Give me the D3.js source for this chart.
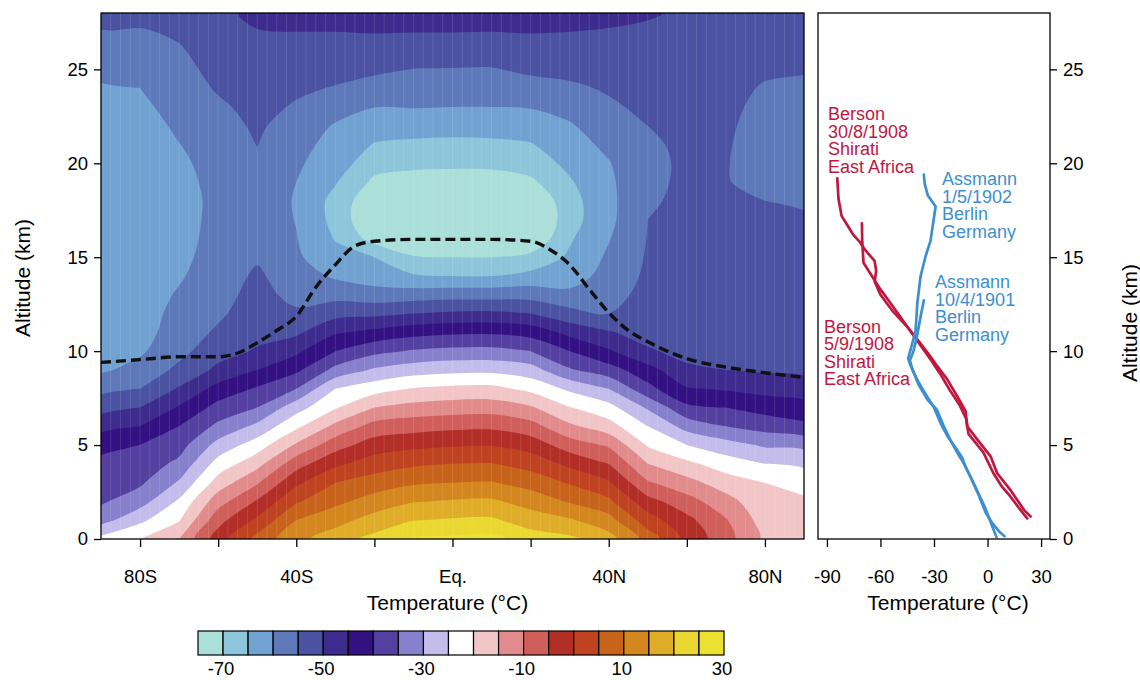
<!DOCTYPE html>
<html>
<head>
<meta charset="utf-8">
<script src="https://cdn.jsdelivr.net/npm/d3@7"></script>
<style>
  body { margin: 0; background: #fff; }
  svg text { font-family: "Liberation Sans", Arial, Helvetica, sans-serif; }
</style>
</head>
<body>
<div id="chart"></div>
<script>
// grid of the zonal mean cross section: latitude columns, altitude rows (km)
var lats = [-90, -80, -70, -60, -50, -40, -30, -20, -10, 0, 10, 20, 30, 40, 50, 60, 70, 80, 90];
var alts = [0, 1, 2, 3, 4, 5, 6, 7, 8, 9, 10, 11, 12, 13, 14, 15, 16, 17, 18, 19, 20, 21, 22, 23, 24, 25, 26, 27, 28];

// temperature (°C) for each latitude, from the ground up to 28 km
var tempByLat = [
  [-23.5, -32, -35.7, -37.3, -38.8, -41.4, -46.8, -51.8, -56.5, -60.8, -62.1, -62.2, -62.4, -62.5, -62.8, -62.9, -63, -62.9, -62.8, -62.8, -62.7, -62.6, -62.5, -61.5, -60.5, -58.8, -57, -55.3, -53],
  [-20, -26.1, -32.1, -35.8, -37.9, -40, -45, -50, -55, -58.3, -60.7, -62, -62.2, -62.4, -62.6, -62.8, -63, -62.8, -62.7, -62.5, -62.3, -62.2, -62, -61, -60, -58.5, -57, -55.5, -53],
  [-15, -20.4, -24.2, -29.4, -33.8, -37, -40, -44.5, -49.5, -53.8, -56.5, -57.5, -58.5, -59.5, -60.5, -61.2, -61.5, -61.6, -61.5, -61.2, -60.8, -60.1, -59.2, -58.3, -57.4, -56.5, -55.5, -54.2, -53],
  [-2.5, -6.75, -12.1, -17.8, -23, -28.3, -33.9, -38.3, -43.3, -48.9, -51.9, -54.3, -55.8, -56.8, -57.5, -58, -58.5, -58.8, -59, -58.8, -58.4, -57.8, -57, -55.8, -54.5, -53.5, -52.6, -51.8, -51],
  [6.5, 1.1, -4.4, -10.6, -16.7, -22.5, -28.8, -35, -39.4, -45, -49.5, -51.5, -52.5, -53.3, -54.2, -55.6, -56.4, -56.9, -57.1, -56.9, -55.6, -54.9, -54.2, -53.5, -52.8, -52, -51.2, -50.2, -49],
  [13.5, 10, 4.4, -1.1, -7.1, -14.3, -21.1, -27.1, -35, -41, -46, -51, -54.2, -56.5, -57.8, -59.2, -59.8, -60.2, -60.4, -60, -59.3, -58.5, -57.3, -55.5, -54.2, -53, -51.8, -50, -48.5],
  [17.7, 13.2, 8.8, 5, -1.1, -7.1, -13.75, -20.5, -25, -33.6, -40, -45.6, -51.7, -56.7, -60.7, -63.5, -65.3, -66.5, -66.6, -64.6, -62.5, -61.5, -60.4, -58, -55.3, -53.4, -51.6, -50, -48],
  [21.4, 17, 12.1, 7.3, 2.5, -2.6, -8.2, -15, -22.1, -29.3, -36.4, -43.6, -51.2, -57.9, -62.5, -65, -72, -75, -74, -71, -68, -65.3, -62.6, -59.9, -56.8, -54.1, -52, -49.8, -47.5],
  [25.5, 19.8, 14.7, 9.3, 4.2, -1.3, -7, -13.3, -19.7, -27.3, -34.5, -41.7, -50, -57.5, -64.5, -69.5, -75.5, -77.5, -76, -72, -68.8, -66, -62.8, -59.8, -57.5, -55.1, -52.4, -49.9, -47.5],
  [26, 20.5, 15.5, 10, 5, -0.5, -6.2, -12.5, -18.8, -26.4, -33.6, -40.8, -49.2, -57, -65, -70, -76, -78, -76, -72, -69.1, -66.2, -63.1, -60, -57.6, -55.2, -52.5, -49.9, -47.5],
  [26.5, 20.8, 15.8, 10.3, 5.2, -0.3, -6, -12.3, -18.6, -26.3, -33.5, -40.7, -49, -57, -65, -70, -76, -78, -76, -72, -69, -66, -63, -60, -57.7, -55.3, -52.6, -50, -47.5],
  [22.5, 17.7, 13, 8, 3, -2.2, -8.1, -14.4, -21.3, -27.9, -35, -42, -50, -56.9, -63.6, -68.6, -74.5, -76.5, -75, -71, -67.6, -65.3, -62.6, -59.7, -56.8, -54.1, -52, -49.8, -47.5],
  [21, 15.6, 9.5, 4.5, -1.2, -7.5, -14, -19.8, -26, -34.4, -40, -46.5, -53.4, -58.5, -62.8, -64.2, -65.6, -67, -66.8, -65.5, -63.8, -62.2, -60.5, -58.3, -55.8, -53.7, -51.8, -50, -48],
  [17, 11.9, 6.1, 0.6, -5, -10.7, -18, -23.3, -30, -37.9, -44.4, -49.6, -55, -56.5, -57.8, -59.2, -60.3, -61.2, -61.3, -61, -60.3, -58.8, -57.3, -55.7, -54.5, -53.3, -52, -50.3, -48.8],
  [8, 2.2, -3.2, -9.4, -15, -20.5, -25, -30.7, -38.5, -43.1, -49.4, -52, -53, -53.7, -54.2, -54.5, -54.8, -55, -55.3, -55.5, -55.6, -55.4, -55, -54, -53, -52.3, -51.6, -50.8, -49.5],
  [-1.5, -3.6, -8, -13.3, -18.8, -25, -31.9, -38.9, -44.6, -49.1, -51.5, -52.5, -53, -53.4, -53.7, -54, -54.2, -54.4, -54.5, -54.6, -54.6, -54.5, -54.3, -54, -53.6, -53.2, -52.5, -51.7, -50.8],
  [-8, -9.6, -13.1, -17.5, -22.5, -28, -35, -40, -45.5, -50, -52, -53, -53.5, -54, -54.3, -54.5, -54.7, -54.8, -54.9, -54.9, -54.9, -54.8, -54.6, -54.3, -54, -53.5, -53, -52.3, -51.5],
  [-16, -17.3, -18.6, -20, -25, -30.7, -37, -42, -46.7, -50.6, -52.2, -53, -53.6, -54, -54.3, -54.6, -54.8, -54.9, -55, -55.6, -55.9, -56, -56, -55.8, -55.3, -54.5, -53.5, -52.5, -51.5],
  [-17, -18.2, -19.2, -21.7, -26, -31.3, -38.8, -43.3, -47.3, -51.2, -52.3, -53, -53.6, -54, -54.3, -54.5, -54.7, -54.9, -55.1, -55.8, -56.2, -56.4, -56.3, -56, -55.5, -54.8, -54, -53, -52]
];

// tropopause (dashed line)
var tropLat = [-90, -80, -70, -60, -55, -50, -45, -40, -35, -30, -25, -20, -10, 0, 10, 20, 25, 30, 35, 40, 45, 50, 60, 70, 80, 90];
var tropAlt = [9.4, 9.55, 9.7, 9.7, 9.9, 10.45, 11.1, 11.85, 13.4, 14.6, 15.6, 15.85, 15.95, 15.95, 15.95, 15.85, 15.4, 14.6, 13.3, 12.05, 11.1, 10.5, 9.6, 9.15, 8.85, 8.6];

// colour classes, 5 °C wide
var bandLimits = [-75, -70, -65, -60, -55, -50, -45, -40, -35, -30, -25, -20, -15, -10, -5, 0, 5, 10, 15, 20, 25, 30];
var bandColors = ['#abdfda', '#8dc5db', '#71a2d2', '#5d79b9', '#4a52a1', '#3d2c8d', '#331183', '#5440a0', '#8780cc',
  '#c4bdeb', '#ffffff', '#f2c6c7', '#e28b8c', '#d05e5a', '#b22e27', '#bf4320', '#c8631c', '#d4871f', '#e0ad28', '#ead72f', '#ece232'];
var cbarLabels = [-70, -50, -30, -10, 10, 30];

var latTicks = [-80, -60, -40, -20, 0, 20, 40, 60, 80];
var latNames = {'-80': '80S', '-40': '40S', '0': 'Eq.', '40': '40N', '80': '80N'};
var altTicks = [0, 5, 10, 15, 20, 25];
var tempTicks = [-90, -60, -30, 0, 30];

// balloon soundings: temperature (°C) / altitude (km)
var bersonA_T = [-84.2, -83.5, -81.8, -78.5, -75.3, -71.5, -68.7, -63.3, -62.4, -63.2, -60, -52.9, -45, -37.5, -31.9, -28.2, -22.6, -17, -12.3, -11.4, -5.8, 1.7, 5.4, 12.9, 20.4, 24.1];
var bersonA_alt = [19.2, 18.1, 17.2, 16.7, 16.2, 15.8, 15.4, 14.8, 14.3, 13.7, 13.0, 12.1, 11.3, 10.4, 9.7, 9.2, 8.5, 7.6, 6.8, 6.0, 5.3, 4.4, 3.5, 2.6, 1.55, 1.2];
var bersonB_T = [-70.4, -70.2, -69.5, -64.8, -60.1, -54.7, -49.1, -43.5, -36, -31.5, -26.6, -21, -15.5, -12, -10.7, -6.5, -2.3, 3.3, 8, 12.9, 18, 22.2];
var bersonB_alt = [16.8, 15.8, 14.7, 14.0, 13.3, 12.6, 11.85, 11.1, 10.1, 9.5, 8.8, 7.9, 7.1, 6.4, 5.6, 5.1, 4.6, 3.5, 2.8, 2.25, 1.6, 1.1];
var assmannA_T = [-35.7, -35.2, -33.5, -29.1, -30.5, -31.9, -34.7, -37.5, -39.3, -40.3, -42.5, -44.5, -43, -39, -34, -30, -26, -22, -17.5, -14, -12.7, -9, -5, -1.5, 1.3, 5];
var assmannA_alt = [19.4, 18.9, 18.3, 17.7, 16.8, 15.9, 15.05, 14.0, 12.6, 11.1, 10.3, 9.6, 9.2, 8.4, 7.6, 7.0, 6.1, 5.4, 4.8, 4.3, 3.9, 3.2, 2.4, 1.7, 1.0, 0.1];
var assmannB_T = [-35.7, -37.5, -39.5, -41.5, -43.5, -42, -38.5, -33.5, -28.5, -24.5, -21, -17, -12.5, -9, -4.8, -1, 3, 6.5, 9.5];
var assmannB_alt = [12.7, 11.85, 10.8, 10.0, 9.5, 9.0, 8.2, 7.4, 6.9, 6.0, 5.3, 4.6, 3.9, 3.2, 2.3, 1.4, 0.8, 0.4, 0.15];

var red = '#c1173f', blue = '#3d8fcf';
var soundings = [
  {T: bersonA_T, alt: bersonA_alt, color: red},
  {T: bersonB_T, alt: bersonB_alt, color: red},
  {T: assmannA_T, alt: assmannA_alt, color: blue},
  {T: assmannB_T, alt: assmannB_alt, color: blue}
];
var notes = [
  {lines: ['Berson', '30/8/1908', 'Shirati', 'East Africa'], T: -89.4, alt: 22.3, color: red},
  {lines: ['Berson', '5/9/1908', 'Shirati', 'East Africa'], T: -91.6, alt: 10.97, color: red},
  {lines: ['Assmann', '1/5/1902', 'Berlin', 'Germany'], T: -25.5, alt: 18.84, color: blue},
  {lines: ['Assmann', '10/4/1901', 'Berlin', 'Germany'], T: -29.4, alt: 13.36, color: blue}
];

var svg = d3.select('#chart').append('svg')
  .attr('width', 1140)
  .attr('height', 680);

var x = d3.scaleLinear().domain([-90, 90]).range([101, 804]);
var y = d3.scaleLinear().domain([0, 28]).range([539, 13]);
var x2 = d3.scaleLinear().domain([-95, 35]).range([818, 1050]);
var color = d3.scaleThreshold().domain(bandLimits.slice(1, -1)).range(bandColors);

var defs = svg.append('defs');
defs.append('clipPath').attr('id', 'clipL').append('rect')
  .attr('x', x.range()[0]).attr('y', y.range()[1])
  .attr('width', x.range()[1] - x.range()[0]).attr('height', y.range()[0] - y.range()[1]);
defs.append('clipPath').attr('id', 'clipR').append('rect')
  .attr('x', x2.range()[0]).attr('y', y.range()[1])
  .attr('width', x2.range()[1] - x2.range()[0]).attr('height', y.range()[0] - y.range()[1]);

// ---- left panel: filled contours ----
var nx = lats.length, ny = alts.length;
var grid = [];
for (var j = 0; j < ny; j++) {
  for (var i = 0; i < nx; i++) grid.push(tempByLat[i][j]);
}
var contours = d3.contours().size([nx, ny]).thresholds(bandLimits.slice(1, -1))(grid);

// contour coordinates are in grid cells, sample i sits at i + 0.5
var dLat = lats[1] - lats[0], dAlt = alts[1] - alts[0];
var ringLine = d3.line()
  .x(function(p) { return x(lats[0] + (p[0] - 0.5) * dLat); })
  .y(function(p) { return y(alts[0] + (p[1] - 0.5) * dAlt); })
  .curve(d3.curveCatmullRomClosed.alpha(0.5));

var field = svg.append('g').attr('clip-path', 'url(#clipL)');
field.append('rect')
  .attr('x', x.range()[0]).attr('y', y.range()[1])
  .attr('width', x.range()[1] - x.range()[0]).attr('height', y.range()[0] - y.range()[1])
  .attr('fill', bandColors[0]);
field.selectAll('path.band')
  .data(contours)
  .enter()
  .append('path')
  .attr('class', 'band')
  .attr('fill', function(d) { return color(d.value); })
  .attr('d', function(d) {
    return d.coordinates.map(function(poly) {
      return poly.map(function(ring) { return ringLine(ring.slice(0, -1)); }).join('');
    }).join('');
  });

// faint tile seams like the original rendering
field.selectAll('line.seam')
  .data(d3.range(-87.5, 90, 2.5))
  .enter()
  .append('line')
  .attr('x1', function(d) { return x(d); }).attr('x2', function(d) { return x(d); })
  .attr('y1', y.range()[1]).attr('y2', y.range()[0])
  .attr('stroke', '#fff').attr('stroke-opacity', 0.12).attr('stroke-width', 1);

// tropopause
var tropLine = d3.line()
  .x(function(d, i) { return x(tropLat[i]); })
  .y(function(d) { return y(d); })
  .curve(d3.curveMonotoneX);
field.append('path')
  .attr('d', tropLine(tropAlt))
  .attr('fill', 'none')
  .attr('stroke', '#111')
  .attr('stroke-width', 3.4)
  .attr('stroke-dasharray', '10,5');

svg.append('rect')
  .attr('x', x.range()[0]).attr('y', y.range()[1])
  .attr('width', x.range()[1] - x.range()[0]).attr('height', y.range()[0] - y.range()[1])
  .attr('fill', 'none').attr('stroke', '#000').attr('stroke-width', 1.3);

// axes (plain hyphen for negative numbers, as in the original)
var plain = function(d) { return String(d); };
function styleAxis(g) {
  g.select('.domain').remove();
  g.selectAll('.tick line').attr('stroke', '#000').attr('stroke-width', 1.3);
  g.selectAll('.tick text').attr('fill', '#000').style('font-size', '18.5px')
    .style('font-family', '"Liberation Sans", Arial, sans-serif');
}

svg.append('g')
  .attr('transform', 'translate(' + x.range()[0] + ',0)')
  .call(d3.axisLeft(y).tickValues(altTicks).tickFormat(plain).tickSize(7).tickPadding(6))
  .call(styleAxis);

svg.append('g')
  .attr('transform', 'translate(0,' + y.range()[0] + ')')
  .call(d3.axisBottom(x).tickValues(latTicks).tickSize(8)
    .tickFormat(function(d) { return latNames[d] || ''; }).tickPadding(23))
  .call(styleAxis);

svg.append('text')
  .attr('x', (x.range()[0] + x.range()[1]) / 2 - 5).attr('y', 610)
  .attr('text-anchor', 'middle').style('font-size', '21px')
  .text('Temperature (°C)');

svg.append('text')
  .attr('transform', 'translate(30,' + ((y.range()[0] + y.range()[1]) / 2 + 2) + ') rotate(-90)')
  .attr('text-anchor', 'middle').style('font-size', '21px')
  .text('Altitude (km)');

// ---- right panel: soundings ----
var right = svg.append('g').attr('clip-path', 'url(#clipR)');
var profLine = d3.line()
  .x(function(d) { return x2(d[0]); })
  .y(function(d) { return y(d[1]); });

right.selectAll('path.sounding')
  .data(soundings)
  .enter()
  .append('path')
  .attr('class', 'sounding')
  .attr('d', function(s) { return profLine(d3.zip(s.T, s.alt)); })
  .attr('fill', 'none')
  .attr('stroke', function(s) { return s.color; })
  .attr('stroke-width', 2.7)
  .attr('stroke-linejoin', 'round')
  .attr('stroke-linecap', 'round');

var noteText = svg.selectAll('text.note')
  .data(notes)
  .enter()
  .append('text')
  .attr('class', 'note')
  .attr('fill', function(d) { return d.color; })
  .style('font-size', '18px');
noteText.selectAll('tspan')
  .data(function(d) { return d.lines.map(function(t, k) { return {t: t, k: k, d: d}; }); })
  .enter()
  .append('tspan')
  .attr('x', function(e) { return x2(e.d.T); })
  .attr('y', function(e) { return y(e.d.alt) + e.k * 17.5; })
  .text(function(e) { return e.t; });

svg.append('rect')
  .attr('x', x2.range()[0]).attr('y', y.range()[1])
  .attr('width', x2.range()[1] - x2.range()[0]).attr('height', y.range()[0] - y.range()[1])
  .attr('fill', 'none').attr('stroke', '#000').attr('stroke-width', 1.3);

svg.append('g')
  .attr('transform', 'translate(' + x2.range()[1] + ',0)')
  .call(d3.axisRight(y).tickValues(altTicks).tickFormat(plain).tickSize(7).tickPadding(6))
  .call(styleAxis);

svg.append('g')
  .attr('transform', 'translate(0,' + y.range()[0] + ')')
  .call(d3.axisBottom(x2).tickValues(tempTicks).tickFormat(plain).tickSize(8).tickPadding(23))
  .call(styleAxis);

svg.append('text')
  .attr('x', (x2.range()[0] + x2.range()[1]) / 2 + 14).attr('y', 610)
  .attr('text-anchor', 'middle').style('font-size', '21px')
  .text('Temperature (°C)');

svg.append('text')
  .attr('transform', 'translate(1137,' + y(11.5) + ') rotate(-90)')
  .attr('text-anchor', 'middle').style('font-size', '21px')
  .text('Altitude (km)');

// ---- colour bar ----
var cb = d3.scaleLinear().domain([bandLimits[0], bandLimits[bandLimits.length - 1]]).range([198, 724]);
var cbar = svg.append('g');
cbar.selectAll('rect')
  .data(bandColors)
  .enter()
  .append('rect')
  .attr('x', function(d, k) { return cb(bandLimits[k]); })
  .attr('width', function(d, k) { return cb(bandLimits[k + 1]) - cb(bandLimits[k]); })
  .attr('y', 631)
  .attr('height', 24)
  .attr('fill', function(d) { return d; })
  .attr('stroke', '#000')
  .attr('stroke-width', 1.2);
cbar.selectAll('text')
  .data(cbarLabels)
  .enter()
  .append('text')
  .attr('x', function(d) { return cb(d) - 2; })
  .attr('y', 675)
  .attr('text-anchor', 'middle')
  .style('font-size', '18.5px')
  .text(plain);
</script>
</body>
</html>
